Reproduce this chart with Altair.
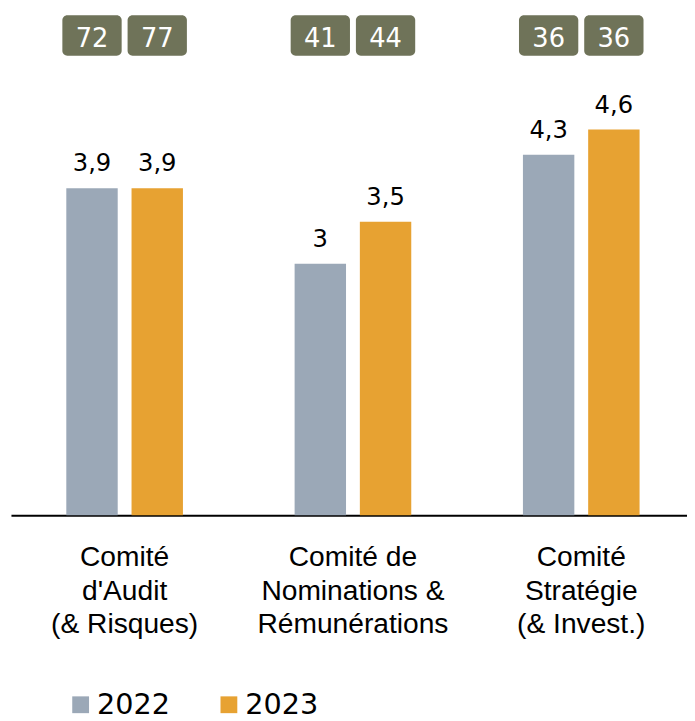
import altair as alt
import pandas as pd

categories = ["Comité|d'Audit|(& Risques)",
              "Comité de|Nominations &|Rémunérations",
              "Comité|Stratégie|(& Invest.)"]
years = ["2022", "2023"]
values_2022 = [3.9, 3.0, 4.3]
values_2023 = [3.9, 3.5, 4.6]
counts_2022 = [72, 41, 36]
counts_2023 = [77, 44, 36]
colors = ["#9ba8b7", "#e7a232"]
badge_color = "#6f7359"

rows = []
for i, c in enumerate(categories):
    rows.append({"cat": c, "year": "2022", "value": values_2022[i], "count": counts_2022[i]})
    rows.append({"cat": c, "year": "2023", "value": values_2023[i], "count": counts_2023[i]})
df = pd.DataFrame(rows)

x_enc = alt.X("cat:N", sort=categories, title=None,
              scale=alt.Scale(paddingInner=0.1, paddingOuter=0.0305, align=0.784),
              axis=alt.Axis(labelExpr="split(datum.label, '|')", labelAngle=0,
                            ticks=False, labelPadding=28, labelFontSize=28.5,
                            labelLineHeight=34, labelFont="Liberation Sans",
                            labelColor="#000000", domainColor="#000000",
                            domainWidth=2, labelBaseline="top", labelLimit=0))
xo_enc = alt.XOffset("year:N", sort=years,
                     scale=alt.Scale(paddingInner=0.212, paddingOuter=0.681))

base = alt.Chart(df).encode(x=x_enc, xOffset=xo_enc)

bars = base.mark_bar().encode(
    y=alt.Y("value:Q", scale=alt.Scale(domain=[0, 6]), axis=None),
    color=alt.Color("year:N", sort=years,
                    scale=alt.Scale(domain=years, range=colors),
                    legend=alt.Legend(title=None, orient="none", direction="horizontal",
                                      columns=2, legendX=56, legendY=686,
                                      symbolType="square", symbolSize=289,
                                      symbolStrokeWidth=0, labelFontSize=29,
                                      labelFont="DejaVu Sans", labelColor="#000000",
                                      labelOffset=2, columnPadding=45, padding=0)),
)

labels = base.mark_text(baseline="alphabetic", dy=-17, fontSize=24.5,
                        font="DejaVu Sans", color="#000000").transform_calculate(
    label="replace(toString(datum.value), '.', ',')"
).encode(
    y=alt.Y("value:Q", scale=alt.Scale(domain=[0, 6]), axis=None),
    text="label:N",
)

badges = base.mark_bar(width=60, cornerRadius=5, color=badge_color).encode(
    y=alt.value(3), y2=alt.value(44),
)

badge_text = base.mark_text(baseline="alphabetic", fontSize=26, font="DejaVu Sans",
                            color="#ffffff").encode(
    y=alt.value(35.3),
    text="count:N",
)

chart = alt.layer(bars, labels, badges, badge_text).properties(
    width=684, height=509,
    padding={"left": 3, "top": 0, "right": 0, "bottom": 0},
).configure_view(stroke=None)

chart.save("out.html", embed_options={"renderer": "svg", "actions": False})
